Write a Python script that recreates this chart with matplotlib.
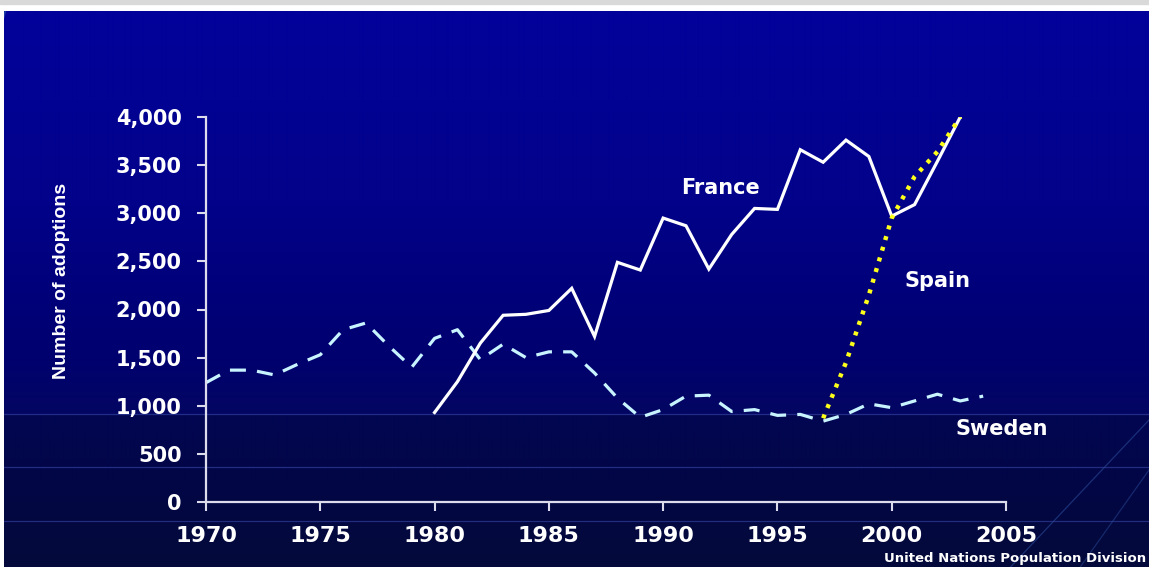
import numpy as np
import matplotlib.pyplot as plt
from matplotlib.patches import Rectangle, Arc

# data
years_sweden = list(range(1970, 2005))
sweden = [1240, 1370, 1370, 1320, 1430, 1530, 1790, 1860, 1620, 1400,
          1700, 1790, 1480, 1640, 1500, 1560, 1560, 1340, 1080, 880,
          960, 1100, 1110, 940, 960, 900, 910, 840, 910, 1020,
          980, 1050, 1120, 1050, 1100]

years_france = list(range(1980, 2004))
france = [930, 1250, 1650, 1940, 1950, 1990, 2220, 1720, 2490, 2410,
          2950, 2870, 2420, 2780, 3050, 3040, 3660, 3530, 3760, 3590,
          2970, 3090, 3540, 4000]

years_spain = list(range(1997, 2004))
spain = [870, 1450, 2150, 2950, 3380, 3640, 4000]

yticks = [0, 500, 1000, 1500, 2000, 2500, 3000, 3500, 4000]
ytick_labels = ['0', '500', '1,000', '1,500', '2,000', '2,500', '3,000', '3,500', '4,000']
xticks = [1970, 1975, 1980, 1985, 1990, 1995, 2000, 2005]

W, H = 1149, 567
fig = plt.figure(figsize=(W / 100, H / 100), dpi=100, facecolor='white')

# grey strip on top of the slide
fig.patches.append(Rectangle((0, 1 - 4 / H), 1, 4 / H, transform=fig.transFigure,
                             color='#d9d9d9', zorder=0))

# slide background: blue gradient, darker below the horizon line
bg = fig.add_axes([4 / W, 0, 1 - 4 / W, 1 - 11 / H])
rows = np.arange(11, H)
stops = [11, 200, 350, 413, 415, 480, 567]
blue = [155, 138, 112, 98, 82, 70, 58]
red = [2, 2, 0, 4, 2, 2, 4]
green = [2, 2, 0, 6, 6, 6, 10]
grad = np.stack([np.interp(rows, stops, red), np.interp(rows, stops, green),
                 np.interp(rows, stops, blue)], axis=-1) / 255.0
grad = np.repeat(grad[:, None, :], 4, axis=1)
bg.imshow(grad, extent=[0, W, H, 11], aspect='auto', interpolation='bilinear')
for yy in [414, 467, 521]:
    bg.axhline(yy, color='#3848a8', lw=0.9, alpha=0.6)
bg.add_patch(Arc((560, 120), 1150, 920, theta1=180, theta2=215,
                 color='#2a5aa8', lw=1.2, alpha=0.7))
bg.plot([1149, 1010], [420, 567], color='#2a4a98', lw=0.9, alpha=0.6)
bg.plot([1149, 1080], [470, 567], color='#2a4a98', lw=0.9, alpha=0.5)
bg.set_xlim(0, W)
bg.set_ylim(H, 11)
bg.axis('off')

# main chart
ax = fig.add_axes([206 / W, 1 - 502 / H, 800 / W, 385 / H])
ax.set_facecolor('none')
ax.plot(years_sweden, sweden, color='#c8f4ff', lw=2.3, dashes=(5, 3.5),
        solid_capstyle='butt')
ax.plot(years_france, france, color='white', lw=2.3, solid_joinstyle='miter')
ax.plot(years_spain, spain, color='#ffff1a', lw=3.2, dashes=(0.9, 1.6))

ax.set_xlim(1970, 2005)
ax.set_ylim(0, 4000)
ax.set_xticks(xticks)
ax.set_yticks(yticks)
ax.set_yticklabels(ytick_labels)
for side in ['top', 'right']:
    ax.spines[side].set_visible(False)
for side in ['left', 'bottom']:
    ax.spines[side].set_color('#dcdcec')
    ax.spines[side].set_linewidth(1.6)
ax.tick_params(axis='both', colors='#dcdcec', width=1.5, length=6.5, direction='out')
ax.tick_params(axis='y', pad=11, labelcolor='white', labelsize=15)
ax.tick_params(axis='x', pad=11, labelcolor='white', labelsize=16)
for lab in ax.get_xticklabels() + ax.get_yticklabels():
    lab.set_fontweight('bold')
    lab.set_family('DejaVu Sans')

# series labels
lab_kw = dict(color='white', fontsize=15, fontweight='bold', ha='center', va='center',
              family='DejaVu Sans', clip_on=False)
ax.text(1992.5, 3262, 'France', **lab_kw)
ax.text(2002.0, 2296, 'Spain', **lab_kw)
ax.text(2004.8, 758, 'Sweden', **lab_kw)

fig.text(61 / W, 1 - 281 / H, 'Number of adoptions', rotation=90, color='white',
         fontsize=14, fontweight='bold', ha='center', va='center', family='Liberation Sans')
fig.text(1146 / W, 2 / H, 'United Nations Population Division', color='white',
         fontsize=9.5, fontweight='bold', ha='right', va='bottom', family='DejaVu Sans')

fig.savefig('out.png', dpi=100, facecolor=fig.get_facecolor())
